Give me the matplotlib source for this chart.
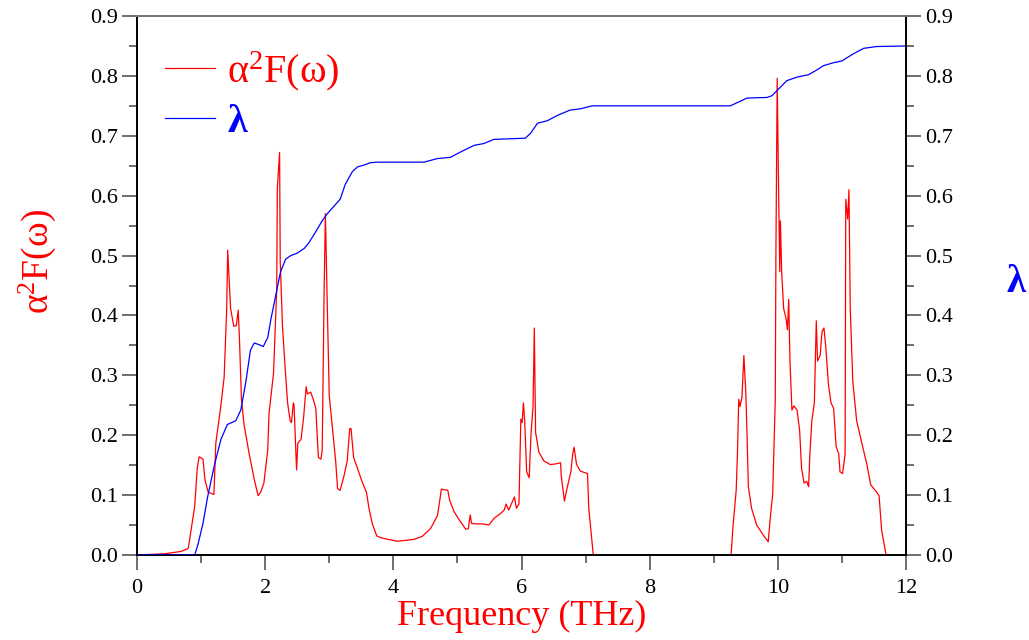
import numpy as np
import matplotlib
matplotlib.use("Agg")
import matplotlib.pyplot as plt
from matplotlib.ticker import MultipleLocator, FormatStrFormatter

plt.rcParams['font.family'] = ['Liberation Serif', 'DejaVu Serif']
plt.rcParams['mathtext.fontset'] = 'custom'
plt.rcParams['mathtext.rm'] = 'Liberation Serif'
plt.rcParams['mathtext.it'] = 'Liberation Serif:italic'

# Eliashberg function a2F(w)
freq_a2f = [0.0, 0.43, 0.69, 0.80, 0.83, 0.90, 0.94, 0.97, 1.03, 1.06, 1.11, 1.20, 1.23, 1.30,
            1.36, 1.40, 1.415, 1.46, 1.51, 1.55, 1.58, 1.60, 1.63, 1.67, 1.75, 1.83, 1.89, 1.93,
            1.98, 2.04, 2.06, 2.13, 2.18, 2.19, 2.225, 2.235, 2.27, 2.31, 2.35, 2.39, 2.41, 2.44,
            2.45, 2.49, 2.51, 2.56, 2.60, 2.64, 2.66, 2.71, 2.75, 2.79, 2.83, 2.87, 2.89, 2.92,
            2.94, 2.97, 3.0, 3.05, 3.10, 3.13, 3.17, 3.23, 3.28, 3.32, 3.34, 3.38, 3.44, 3.51,
            3.58, 3.62, 3.67, 3.74, 3.80, 3.88, 4.06, 4.32, 4.45, 4.58, 4.69, 4.75, 4.85, 4.88,
            4.95, 5.02, 5.13, 5.17, 5.20, 5.22, 5.28, 5.39, 5.49, 5.57, 5.67, 5.73, 5.76, 5.80,
            5.85, 5.89, 5.92, 5.96, 5.99, 6.01, 6.03, 6.05, 6.08, 6.12, 6.15, 6.18, 6.20, 6.22,
            6.27, 6.35, 6.45, 6.53, 6.61, 6.62, 6.67, 6.71, 6.77, 6.80, 6.82, 6.86, 6.92, 7.03,
            7.05, 7.12, 9.27, 9.30, 9.35, 9.37, 9.39, 9.41, 9.44, 9.47, 9.50, 9.52, 9.54, 9.59,
            9.67, 9.78, 9.85, 9.88, 9.92, 9.96, 9.97, 9.99, 10.01, 10.03, 10.04, 10.06, 10.09,
            10.13, 10.15, 10.17, 10.19, 10.22, 10.25, 10.30, 10.34, 10.37, 10.41, 10.45, 10.48,
            10.50, 10.53, 10.57, 10.60, 10.62, 10.66, 10.69, 10.72, 10.75, 10.79, 10.83, 10.87,
            10.91, 10.95, 10.97, 11.01, 11.05, 11.06, 11.09, 11.11, 11.13, 11.17, 11.23, 11.31,
            11.39, 11.45, 11.52, 11.58, 11.62, 11.69, 12.0]
a2f = [0.0, 0.002, 0.006, 0.011, 0.032, 0.081, 0.145, 0.164, 0.16, 0.126, 0.105, 0.101, 0.187, 0.242,
       0.297, 0.412, 0.509, 0.412, 0.382, 0.383, 0.409, 0.357, 0.26, 0.218, 0.169, 0.126, 0.099, 0.105,
       0.12, 0.175, 0.236, 0.303, 0.442, 0.613, 0.672, 0.491, 0.382, 0.315, 0.254, 0.224, 0.221, 0.254,
       0.251, 0.142, 0.187, 0.193, 0.23, 0.281, 0.269, 0.272, 0.26, 0.245, 0.163, 0.16, 0.175, 0.442,
       0.57, 0.412, 0.266, 0.211, 0.157, 0.111, 0.108, 0.132, 0.157, 0.211, 0.211, 0.163, 0.145, 0.123,
       0.105, 0.078, 0.053, 0.032, 0.029, 0.027, 0.023, 0.026, 0.031, 0.044, 0.066, 0.11, 0.108, 0.091,
       0.072, 0.06, 0.043, 0.044, 0.067, 0.053, 0.052, 0.052, 0.05, 0.061, 0.069, 0.075, 0.085, 0.075,
       0.087, 0.097, 0.078, 0.085, 0.227, 0.221, 0.254, 0.224, 0.139, 0.129, 0.205, 0.248, 0.379, 0.205,
       0.172, 0.157, 0.151, 0.152, 0.154, 0.132, 0.09, 0.111, 0.139, 0.169, 0.18, 0.151, 0.14, 0.136,
       0.078, 0.0, 0.0, 0.047, 0.108, 0.169, 0.26, 0.248, 0.263, 0.333, 0.272, 0.199, 0.114, 0.078,
       0.05, 0.032, 0.022, 0.06, 0.102, 0.26, 0.503, 0.796, 0.624, 0.473, 0.558, 0.473, 0.412,
       0.394, 0.376, 0.427, 0.321, 0.242, 0.249, 0.242, 0.208, 0.145, 0.12, 0.123, 0.114,
       0.169, 0.224, 0.254, 0.391, 0.324, 0.333, 0.373, 0.379, 0.345, 0.284, 0.254, 0.245,
       0.181, 0.169, 0.139, 0.136, 0.169, 0.594, 0.561, 0.61, 0.412, 0.29, 0.224, 0.187,
       0.151, 0.117, 0.108, 0.099, 0.041, 0.0, 0.0]

# cumulative coupling constant lambda
freq_lam = [0.0, 0.90, 0.95, 1.03, 1.10, 1.21, 1.31, 1.41, 1.54, 1.62, 1.70, 1.77, 1.83, 1.91, 1.97,
            2.04, 2.09, 2.17, 2.24, 2.32, 2.40, 2.50, 2.61, 2.68, 2.79, 2.89, 2.97, 3.07, 3.17, 3.25,
            3.36, 3.44, 3.54, 3.64, 3.75, 4.48, 4.69, 4.89, 5.05, 5.26, 5.41, 5.57, 5.83, 6.06, 6.14,
            6.25, 6.40, 6.56, 6.76, 6.92, 7.10, 9.26, 9.36, 9.52, 9.83, 9.91, 10.01, 10.14, 10.30,
            10.48, 10.61, 10.71, 10.87, 11.0, 11.18, 11.34, 11.54, 12.0]
lam = [0.0, 0.0, 0.017, 0.053, 0.096, 0.151, 0.193, 0.218, 0.224, 0.242, 0.29, 0.342, 0.354, 0.351, 0.348,
       0.363, 0.394, 0.436, 0.473, 0.494, 0.5, 0.504, 0.512, 0.521, 0.54, 0.558, 0.57, 0.582, 0.594, 0.619,
       0.64, 0.648, 0.651, 0.655, 0.656, 0.656, 0.662, 0.664, 0.673, 0.684, 0.687, 0.694, 0.695, 0.696, 0.704,
       0.721, 0.725, 0.734, 0.743, 0.745, 0.75, 0.75, 0.755, 0.763, 0.764, 0.767, 0.778, 0.792, 0.798,
       0.802, 0.81, 0.817, 0.822, 0.825, 0.837, 0.846, 0.849, 0.85]

fig = plt.figure(figsize=(10.29, 6.4), dpi=100)
ax = fig.add_axes([137 / 1029, 85 / 640, 769 / 1029, 539 / 640])
ax2 = ax.twinx()

l1, = ax.plot(freq_a2f, a2f, color='#ff0000', lw=0.9)
l2, = ax2.plot(freq_lam, lam, color='#0000ff', lw=0.9)

for a in (ax, ax2):
    a.set_xlim(0, 12)
    a.set_ylim(0, 0.9)
    a.yaxis.set_major_locator(MultipleLocator(0.1))
    a.yaxis.set_minor_locator(MultipleLocator(0.05))
    a.yaxis.set_major_formatter(FormatStrFormatter('%.1f'))
    a.tick_params(axis='both', which='major', direction='out', length=11, width=1.2,
                  color='#555555', labelsize=16, pad=3)
    a.tick_params(axis='both', which='minor', direction='out', length=6, width=1.2,
                  color='#555555')
    for s in a.spines.values():
        s.set_linewidth(1.4)
    a.spines['top'].set_color('#777777')

ax.xaxis.set_major_locator(MultipleLocator(2))
ax.xaxis.set_minor_locator(MultipleLocator(1))
ax.tick_params(axis='x', which='major', pad=6)
ax.spines['right'].set_visible(False)
ax2.spines['left'].set_visible(False)
ax2.spines['bottom'].set_visible(False)

ax.set_xlabel('Frequency (THz)', color='#ff0000', fontsize=26, labelpad=2)
fig.text(37 / 1029, 1 - 262 / 640, r'α$^{2}$F(ω)', color='#ff0000', fontsize=27,
         rotation=90, ha='center', va='center')
fig.text(1016 / 1029, 1 - 283 / 640, 'λ', color='#0000ff', fontsize=28,
         fontweight='bold', ha='center', va='center')

leg = ax.legend([l1, l2], [r'α$^{2}$F(ω)', 'λ'], loc='upper left', frameon=False,
                bbox_to_anchor=(28 / 769, 1 - 33 / 539), borderpad=0, borderaxespad=0,
                fontsize=29, handlelength=1.25, handletextpad=0.3, labelspacing=0.28,
                labelcolor='linecolor')
leg.get_texts()[1].set_fontweight('bold')

plt.savefig('out.png', dpi=100)
